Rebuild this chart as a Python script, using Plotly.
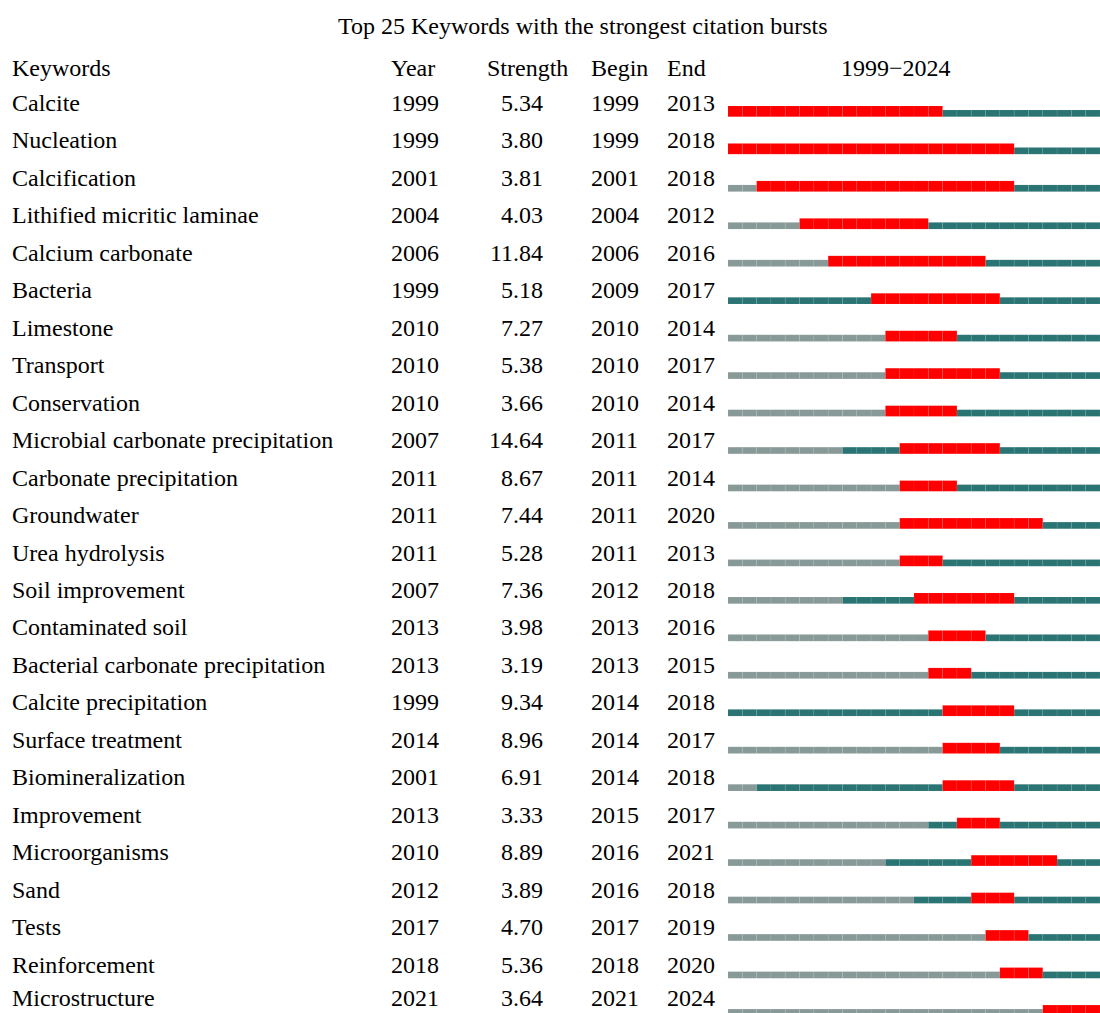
import plotly.graph_objects as go

keywords = ["Calcite", "Nucleation", "Calcification", "Lithified micritic laminae", "Calcium carbonate",
            "Bacteria", "Limestone", "Transport", "Conservation", "Microbial carbonate precipitation",
            "Carbonate precipitation", "Groundwater", "Urea hydrolysis", "Soil improvement",
            "Contaminated soil", "Bacterial carbonate precipitation", "Calcite precipitation",
            "Surface treatment", "Biomineralization", "Improvement", "Microorganisms", "Sand",
            "Tests", "Reinforcement", "Microstructure"]
years = [1999, 1999, 2001, 2004, 2006, 1999, 2010, 2010, 2010, 2007, 2011, 2011, 2011, 2007,
         2013, 2013, 1999, 2014, 2001, 2013, 2010, 2012, 2017, 2018, 2021]
strengths = [5.34, 3.80, 3.81, 4.03, 11.84, 5.18, 7.27, 5.38, 3.66, 14.64, 8.67, 7.44, 5.28, 7.36,
             3.98, 3.19, 9.34, 8.96, 6.91, 3.33, 8.89, 3.89, 4.70, 5.36, 3.64]
begins = [1999, 1999, 2001, 2004, 2006, 2009, 2010, 2010, 2010, 2011, 2011, 2011, 2011, 2012,
          2013, 2013, 2014, 2014, 2014, 2015, 2016, 2016, 2017, 2018, 2021]
ends = [2013, 2018, 2018, 2012, 2016, 2017, 2014, 2017, 2014, 2017, 2014, 2020, 2013, 2018,
        2016, 2015, 2018, 2017, 2018, 2017, 2021, 2018, 2019, 2020, 2024]
start_year, end_year = 1999, 2024
title = "Top 25 Keywords with the strongest citation bursts"
headers = ["Keywords", "Year", "Strength", "Begin", "End", f"{start_year}\u2212{end_year}"]

W, H = 1100, 1013
row_px = 37.46
row0_px = 103
y_top = -row0_px / row_px
y_bot = y_top + H / row_px

GREY, TEAL, RED = "#889a98", "#2a7473", "#ff0000"

cells = {"grey": ([], []), "teal": ([], []), "red": ([], [])}
for i in range(len(keywords)):
    for yr in range(start_year, end_year + 1):
        if begins[i] <= yr <= ends[i]:
            k = "red"
        elif yr < years[i]:
            k = "grey"
        else:
            k = "teal"
        cells[k][0].append(i)
        cells[k][1].append(yr - 0.5)

fig = go.Figure()
specs = {"grey": (GREY, 0.187, 0.179), "teal": (TEAL, 0.187, 0.179), "red": (RED, 0.080, 0.286)}
for k in ["grey", "teal", "red"]:
    col, off, wid = specs[k]
    ys, bases = cells[k]
    fig.add_trace(go.Bar(
        orientation="h", y=ys, base=bases, x=[1] * len(ys),
        offset=off, width=wid,
        marker=dict(color=col, line=dict(color="rgba(255,255,255,0.2)", width=0.3)),
        hoverinfo="skip", showlegend=False,
    ))

font = dict(family="Liberation Serif, Times New Roman, serif", size=24, color="black")
ann = []
def add(text, xpx, yv, anchor="left"):
    ann.append(dict(text=text, x=xpx / W, xref="paper", y=yv, yref="y",
                    xanchor=anchor, yanchor="middle", showarrow=False, font=font,
                    borderpad=0))

add(title, 582.5, (26 - row0_px) / row_px, "center")
hy = (68 - row0_px) / row_px
add(headers[0], 11, hy)
add(headers[1], 390, hy)
add(headers[2], 486, hy)
add(headers[3], 590, hy)
add(headers[4], 666, hy)
add(headers[5], 896.5, hy, "center")
n = len(keywords)
for i in range(n):
    ty = i - (0.1 if i == n - 1 else 0.0)
    add(keywords[i], 11, ty)
    add(str(years[i]), 390, ty)
    add(f"{strengths[i]:.2f}", 544, ty, "right")
    add(str(begins[i]), 590, ty)
    add(str(ends[i]), 666, ty)

fig.update_layout(
    width=W, height=H, autosize=False,
    margin=dict(l=0, r=0, t=0, b=0),
    paper_bgcolor="white", plot_bgcolor="white",
    barmode="overlay",
    xaxis=dict(domain=[728 / W, 1], range=[start_year - 0.5, end_year + 0.5],
               visible=False, fixedrange=True),
    yaxis=dict(range=[y_bot, y_top], visible=False, fixedrange=True),
    annotations=ann,
)

fig.write_html("out.html", config={"displayModeBar": False},
               post_script="document.body.style.margin='0';")
